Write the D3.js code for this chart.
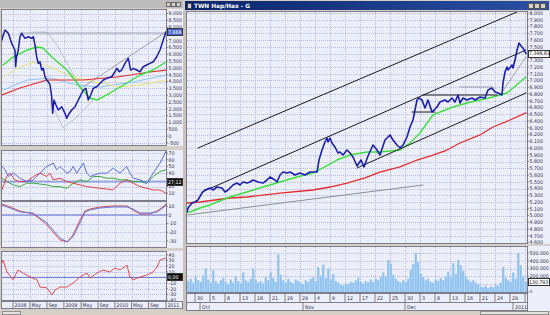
<!DOCTYPE html>
<html>
<head>
<meta charset="utf-8">
<script src="https://cdn.jsdelivr.net/npm/d3@7/dist/d3.min.js"></script>
<style>
  html, body { margin: 0; padding: 0; background: #d4d0c8; overflow: hidden; }
  svg { display: block; font-family: "DejaVu Sans", Verdana, sans-serif; }
  .lbl { font-family: "DejaVu Sans Condensed", "DejaVu Sans", sans-serif; font-size: 5.2px; fill: #2c2c48; }
</style>
</head>
<body>
<svg id="chart" width="550" height="315"></svg>
<script>
// ─── Left window: weekly data (x = weeks since mid-Oct 2007) ─────────────────

const leftClose = [[0,7056],[0.7,7299],[3.1,7791],[6.5,7548],[8.2,7181],[9.9,6813],[11.6,6564],[13.3,6321],[14,5094],[15,5829],
  [16.7,6321],[18.4,7299],[20.2,7548],[23.6,7181],[26.9,7299],[30.4,7181],[32.1,7299],[33.8,6689],[35.5,5829],[37.2,5343],
  [38.9,5461],[40.7,4851],[42.3,4976],[44,4359],[45.8,4116],[47.4,3991],[49.2,3749],[50.9,2889],[51.9,1668],[53.3,2646],
  [55.3,2279],[57.7,1911],[61.2,2154],[64.5,1668],[66.3,1301],[67.9,1544],[71.4,1911],[74.8,2154],[78.2,2646],[79.9,2889],
  [83.3,3381],[86,3506],[88.4,2646],[90.9,3014],[93.5,3506],[97,3624],[100.4,3874],[103.8,4116],[107.3,4241],[112.4,4359],
  [115.8,4726],[117.5,4976],[120.2,4726],[122.6,4851],[126,5343],[129.4,5711],[131.8,4851],[134.5,4976],[138,4851],[141.4,4726],
  [144.7,5094],[148.2,5219],[151.6,5343],[155,5461],[158.5,5829],[161.9,6321],[164.6,6931],[168,7666]];
const leftMaGreen  = [[1,5219],[11.3,5807],[25.6,6321],[35.9,6542],[42,6468],[52.2,5733],[66.6,4851],[79.9,3602],[90.1,2793],
  [97.3,2646],[110.6,3161],[128,3896],[141.4,4484],[154.7,4851],[168,5439]];
const leftMaRed    = [[0,3014],[18.4,3528],[46.1,4116],[83,4116],[117.8,4337],[151.6,4704],[168,4851]];
const leftMaYellow = [[1,4337],[18.4,5072],[31.8,5439],[49.2,5072],[72.7,4337],[100.4,3896],[120.9,3602],[141.4,3749],[168,4116]];
const leftMaCyan   = [[1,3381],[25.6,4116],[49.2,4263],[76.8,3749],[100.4,3602],[134.2,3969],[168,4484]];
const leftBandUp   = [[31.8,7644],[46.1,7644],[56.3,6689],[66.6,5366],[79.9,3602]];
const leftBandDown = [[49.2,2646],[62.5,588],[76.8,1397],[93.2,2646]];
const leftTrend    = [[83,3602],[168,7644]];
const leftResist   = [[18.4,7571],[168,7571]];

const oscBlue  = [[0,50],[3.1,45],[6.5,35],[11.6,40],[18.4,32.5],[25.3,27.5],[32.1,30],[38.9,40],[45.8,50],[52.6,55],[56,45],
  [59.4,50],[66.3,40],[69.7,42.5],[73,50],[76.5,40],[83.3,55],[86.8,40],[90.1,35],[100.4,40],[107.3,40],[114,47.5],[120.9,40],
  [127.7,50],[131.1,40],[134.5,32.5],[141.4,30],[148.2,25],[155,40],[161.9,55],[168,72.5]];
const oscRed   = [[0,15],[4.8,35],[8.2,40],[13.3,30],[18.4,27.5],[25.3,27.5],[32.1,35],[38.9,40],[45.8,35],[49.2,40],[52.6,30],
  [59.4,32.5],[66.3,27.5],[73,25],[79.9,22.5],[86.8,20],[100.4,17.5],[114,15],[120.9,25],[127.7,30],[134.5,25],[141.4,20],
  [155,15],[161.9,15],[168,10]];
const oscGreen = [[0,32.5],[4.8,27.5],[11.6,22.5],[18.4,20],[25.3,25],[32.1,25],[45.8,22.5],[52.6,20],[59.4,20],[66.3,17.5],
  [73,25],[79.9,30],[86.8,27.5],[93.5,35],[100.4,35],[107.3,32.5],[114,32.5],[120.9,30],[127.7,30],[134.5,27.5],[141.4,27.5],
  [148.2,25],[155,35],[161.9,42.5],[168,45]];
const oscLevel = 27;

const macdWeek = [0,8.2,18.4,31.8,38.9,46.1,52.2,59.4,66.6,72.7,79.9,85,90.1,100.4,113.7,128,134.2,141.4,151.6,158.8,164.9,168];
const macdBlue = [11.5,8.1,3.5,2.3,-3.5,-9.2,-17.3,-26.5,-31.1,-25.4,-9.2,3.5,5.8,8.1,9.2,9.2,6.9,2.3,2.3,3.5,8.1,11.5];
const macdRed  = [12.7,9.2,4.6,1.2,-4.6,-11.5,-19.6,-28.8,-31.1,-23.1,-5.8,4.6,6.9,9.2,10.4,10.4,5.8,1.2,1.2,4.6,9.2,12.7];

const momWeek = [0,1,5.1,11.3,16.4,21.5,28.7,35.9,38.9,46.1,51.2,54.3,59.4,66.6,72.7,79.9,87.1,90.1,97.3,103.5,110.6,115.8,
  120.9,128,131.1,134.2,141.4,148.5,154.7,158.8,161.9,168];
const momRed  = [25.5,30.8,9.6,-4.2,13.1,7.8,0.7,-4.2,-17,-18.4,-31.2,-22.3,-17,-17,-10.1,0.7,7.8,-1.1,7.8,13.1,9.6,16.6,
  13.1,21.9,0.7,-4.2,0.7,4.2,9.6,18.4,30.8,34.3];

const leftMonthWeek  = [11.3,28.6,46,63.4,81,98.4,115.6,132.7,150,167.9];
const leftMonthLabel = ['2008','May','Sep','2009','May','Sep','2010','May','Sep','2011'];

// ─── Right window: daily data (x = trading days since 24 Sep 2010) ──────────

const mainClose = [[0,5052],[0.2,5111],[1,5185],[1.6,5200],[2.2,5230],[3,5333],[3.6,5378],[4.6,5407],[5.2,5378],[6,5422],
  [7,5407],[7.6,5348],[8.2,5378],[9.2,5452],[10,5481],[10.6,5452],[11.2,5496],[12,5481],[12.6,5496],[13.2,5526],
  [14.2,5496],[15.2,5481],[16,5526],[16.6,5570],[17.6,5526],[18,5496],[18.6,5600],[19.2,5644],[20,5630],[20.6,5644],
  [21.6,5600],[22.6,5630],[23.6,5600],[24.6,5644],[26,5644],[26.4,5822],[27,5970],[27.6,6089],[28,6148],[28.2,6089],
  [28.6,6148],[29,6074],[29.6,6015],[30.2,5926],[30.6,5941],[31.2,5896],[32,5970],[32.6,5926],[33.2,5867],[34,5733],
  [34.8,5822],[35.4,5719],[36.2,5881],[37.2,6044],[38,5970],[38.6,5896],[39.6,6119],[40.6,6193],[41.2,6119],[42,6044],
  [42.6,6000],[43.2,6044],[44,6163],[44.6,6311],[45.2,6415],[46,6711],[46.4,6741],[47,6711],[47.6,6593],[48.2,6711],
  [49,6533],[50,6607],[50.6,6681],[51.6,6711],[52.2,6681],[53,6741],[53.6,6681],[54.2,6785],[54.6,6667],[55.2,6741],
  [56,6711],[57,6741],[57.6,6711],[58.6,6756],[59.6,6741],[60.2,6859],[61,6889],[61.6,6830],[62.2,6815],[63,6785],
  [63.2,6963],[63.6,7126],[64,7200],[64.2,7156],[65,7230],[65.2,7185],[65.6,7304],[66,7452],[66.4,7556],[66.8,7511],
  [67.2,7481],[67.8,7399]];
const mainMaGreen = [[0,5052],[0.6,5052],[2.6,5111],[4.6,5156],[6,5200],[8.6,5274],[12,5348],[15.2,5422],[18.6,5496],[22,5570],
  [25.2,5630],[27.2,5704],[30,5822],[32.6,5896],[36,5941],[38.6,5941],[42.6,5970],[44.6,6074],[46.6,6222],[48,6370],
  [49.2,6489],[50.6,6533],[53.2,6607],[56,6667],[58.6,6711],[61.2,6756],[62.6,6785],[64,6815],[65.2,6889],[66.6,6978],[67.8,7052]];
const mainMaRed = [[0,5185],[2.6,5200],[8.6,5259],[12,5274],[18.6,5333],[25.2,5378],[28.6,5422],[32,5481],[35.6,5556],[38.6,5644],
  [42.6,5719],[46,5822],[49.2,5896],[52,5970],[54.6,6074],[58.6,6193],[61.2,6311],[64.6,6415],[67.8,6519]];
const mainMaGrey = [[0,5007],[47.2,5452]];
const channelBlack = [
  [[2.2,6000],[66,8015]],
  [[3,5348],[67.8,7452]],
  [[34,5704],[67.8,6815]],
  [[47.2,6785],[62,6785]],
  [[45,6533],[49.6,6533]]
];
const channelGrey = [
  [[54.6,6904],[61,6904]],
  [[62.6,6785],[67.8,7348]]
];
const lastCloseText = '7.398,83';

// volume in thousands, two bars per trading day
const mainVolume = [140,170,120,190,150,130,210,300,160,120,280,140,110,150,180,130,100,160,120,200,
  140,110,250,150,130,170,300,160,120,140,110,190,150,250,180,130,480,220,150,120,
  170,130,110,160,140,120,100,150,130,170,190,140,320,210,350,180,300,160,230,140,
  120,90,80,110,100,130,120,150,180,130,110,140,120,160,130,170,150,190,250,200,
  410,360,220,170,140,120,150,130,170,280,360,500,380,240,190,150,170,130,120,160,
  140,180,150,200,260,190,370,230,410,340,270,200,160,130,150,120,100,70,60,80,
  50,70,60,90,80,120,320,180,150,130,250,170,500,340,200,130];
const lastVolumeText = '130.793';

const dayLabels  = ['30','5','8','13','18','21','26','29','4','9','12','17','22','25','30','3','8','13','16','21','24','29','3'];
const monthDay   = [2.6,23.2,43.6,65.2];
const monthLabel = ['Oct','Nov','Dec','2011'];

// ─── Setup ────────────────────────────────────────────────────────────────────

const svg = d3.select('#chart');
const num = d3.formatLocale({ decimal: ',', thousands: '.', grouping: [3], currency: ['', ''], minus: '-' }).format(',');
const BG = '#eceffa', GRID = '#b3bbe6', FRAME = '#7c7c8c';
const defs = svg.append('defs');

const grad = defs.append('linearGradient').attr('id', 'title');
grad.append('stop').attr('offset', 0).attr('stop-color', '#0a246a');
grad.append('stop').attr('offset', 1).attr('stop-color', '#2c50a4');

function clip(id, x0, x1, y0, y1) {
  defs.append('clipPath').attr('id', id).append('rect')
    .attr('x', x0).attr('y', y0).attr('width', x1 - x0).attr('height', y1 - y0);
}

function box(x0, x1, y0, y1, fill, stroke) {
  svg.append('rect').attr('x', x0).attr('y', y0).attr('width', x1 - x0).attr('height', y1 - y0)
    .attr('fill', fill).attr('stroke', stroke || 'none').attr('stroke-width', 1).attr('shape-rendering', 'crispEdges');
}

function grid(xs, ys, x0, x1, y0, y1) {
  const g = svg.append('g').attr('stroke', GRID).attr('stroke-width', 1)
    .attr('stroke-dasharray', '1,1').attr('shape-rendering', 'crispEdges');
  xs.forEach(x => g.append('line').attr('x1', Math.round(x) + 0.5).attr('x2', Math.round(x) + 0.5).attr('y1', y0).attr('y2', y1));
  ys.forEach(y => g.append('line').attr('y1', Math.round(y) + 0.5).attr('y2', Math.round(y) + 0.5).attr('x1', x0).attr('x2', x1));
}

function yLabels(scale, values, xEdge, fmt) {
  const g = svg.append('g');
  values.forEach(v => {
    const y = scale(v);
    g.append('line').attr('x1', xEdge).attr('x2', xEdge + 2).attr('y1', y).attr('y2', y)
      .attr('stroke', '#555').attr('stroke-width', 0.6);
    g.append('text').attr('class', 'lbl').attr('x', xEdge + 2.5).attr('y', y).attr('dy', '0.35em').text(fmt(v));
  });
}

function valueBox(xEdge, y, w, text, fill, color) {
  box(xEdge + 1, xEdge + 1 + w, y - 3.5, y + 3.5, fill, '#333');
  svg.append('text').attr('class', 'lbl').attr('x', xEdge + 2).attr('y', y).attr('dy', '0.35em')
    .style('fill', color).text(text);
}

function drawLine(data, xs, ys, color, width, clipId) {
  svg.append('path').datum(data).attr('clip-path', `url(#${clipId})`)
    .attr('fill', 'none').attr('stroke', color).attr('stroke-width', width)
    .attr('stroke-linejoin', 'round').attr('stroke-linecap', 'round')
    .attr('d', d3.line().x(d => xs(d[0])).y(d => ys(d[1])));
}

// ─── Window chrome ────────────────────────────────────────────────────────────

box(0, 550, 0, 315, '#d4d0c8');
// left window (inactive title strip)
box(0, 183, 0, 8, '#bcbcbc');
[166, 171, 176].forEach(x => box(x, x + 4, 2, 6, '#d4d0c8', '#6c6c6c'));
// right window title bar
box(185, 549, 1, 10, 'url(#title)');
box(187, 191, 3, 8, '#d4d0c8', '#444');
svg.append('text').attr('x', 194).attr('y', 8).attr('fill', '#fff').attr('font-size', 5.8).attr('font-weight', 'bold')
  .text('TWN Hap/Hax - G');
[528, 534, 540].forEach(x => box(x, x + 5, 3, 8.5, '#d4d0c8', '#555'));
box(183, 186, 10, 312, '#c8c4bc');
box(0, 550, 311, 315, '#d4d0c8');
box(2, 20, 311.5, 314.5, '#e4e2dc', '#909090');
box(480, 548, 311.5, 314.5, '#e4e2dc', '#909090');

// ─── Left window panels ───────────────────────────────────────────────────────

const xL = d3.scaleLinear().domain([0, 168]).range([2, 166]);
const yLPrice = d3.scaleLinear().domain([-662, 9265]).range([145, 10]);
const yLOsc = d3.scaleLinear().domain([0, 73]).range([200, 151]);
const yLMacd = d3.scaleLinear().domain([-37, 15]).range([247, 202]);
const yLMom = d3.scaleLinear().domain([-40, 45]).range([300, 252]);

const monthX = leftMonthWeek.map(xL);
const leftPanels = [
  { id: 'lp', y: yLPrice, ticks: d3.range(-500, 9001, 500) },
  { id: 'lo', y: yLOsc, ticks: d3.range(10, 71, 10) },
  { id: 'lm', y: yLMacd, ticks: [10, 0, -10, -20, -30] },
  { id: 'lr', y: yLMom, ticks: [40, 30, 20, 10, -10, -20, -30, -40] }
];
leftPanels.forEach(p => {
  const [b, t] = p.y.range();
  box(1, 183, t - 1, b + 1, BG);
  grid(monthX.slice(0, -1), p.ticks.map(p.y), 2, 166, t, b);
  clip(p.id, 2, 166, t, b);
});
leftPanels.forEach(p => {
  const [b, t] = p.y.range();
  box(1.5, 166.5, t - 0.5, b + 0.5, 'none', FRAME);
});

// price panel
const leftLast = leftClose[leftClose.length - 1][1];
drawLine(leftBandUp, xL, yLPrice, '#b4b4c0', 0.8, 'lp');
drawLine(leftBandDown, xL, yLPrice, '#b4b4c0', 0.8, 'lp');
drawLine(leftMaCyan, xL, yLPrice, '#8cc4f4', 1, 'lp');
drawLine(leftMaYellow, xL, yLPrice, '#e4e47a', 1, 'lp');
drawLine(leftResist, xL, yLPrice, '#8a8a96', 0.8, 'lp');
drawLine(leftTrend, xL, yLPrice, '#8a8a96', 0.8, 'lp');
drawLine(leftMaRed, xL, yLPrice, '#e22a2a', 1.2, 'lp');
drawLine(leftMaGreen, xL, yLPrice, '#38de38', 1.4, 'lp');
drawLine(leftClose, xL, yLPrice, '#1c1ca4', 1.5, 'lp');
yLabels(yLPrice, d3.range(-500, 9001, 500).filter(v => Math.abs(yLPrice(v) - yLPrice(leftLast)) > 4), 166, num);
valueBox(166, yLPrice(leftLast), 15.5, num(leftLast), '#4866d0', '#fff');

// oscillator panel
drawLine([[0, oscLevel], [168, oscLevel]], xL, yLOsc, '#4050c8', 0.8, 'lo');
drawLine(oscGreen, xL, yLOsc, '#2aa02a', 0.9, 'lo');
drawLine(oscRed, xL, yLOsc, '#e03030', 0.9, 'lo');
drawLine(oscBlue, xL, yLOsc, '#4a5ce0', 0.9, 'lo');
yLabels(yLOsc, [70, 60, 50, 40, 30, 20, 10].filter(v => Math.abs(yLOsc(v) - yLOsc(oscLevel)) > 3.5), 166, d => d);
valueBox(166, yLOsc(oscLevel), 15.5, '27,12', '#101010', '#fff');

// macd panel
drawLine([[0, 0], [168, 0]], xL, yLMacd, '#4050c8', 0.8, 'lm');
drawLine(d3.zip(macdWeek, macdRed), xL, yLMacd, '#e03a3a', 0.9, 'lm');
drawLine(d3.zip(macdWeek, macdBlue), xL, yLMacd, '#5070e0', 0.9, 'lm');
yLabels(yLMacd, [10, 0, -10, -20, -30], 166, d => d);

// momentum panel
drawLine([[0, 0], [168, 0]], xL, yLMom, '#4050c8', 0.8, 'lr');
drawLine(d3.zip(momWeek, momRed), xL, yLMom, '#e03a3a', 0.9, 'lr');
yLabels(yLMom, [40, 30, 20, 10, -10, -20, -30, -40], 166, d => d);
valueBox(166, yLMom(0), 15.5, '0,00', '#101010', '#fff');

// time axis
box(1, 183, 301, 309, BG);
box(1.5, 182.5, 301.5, 308.5, 'none', FRAME);
monthX.forEach((x, i) => {
  svg.append('line').attr('x1', x).attr('x2', x).attr('y1', 301.5).attr('y2', 308.5)
    .attr('stroke', '#666').attr('stroke-width', 0.8);
  svg.append('text').attr('class', 'lbl').attr('x', x + 1.5).attr('y', 307).text(leftMonthLabel[i]);
});

// ─── Right window panels ──────────────────────────────────────────────────────

const xR = d3.scaleLinear().domain([0, 68]).range([187, 527]);
const yRPrice = d3.scaleLinear().domain([4600, 8000]).range([242.5, 13]);
const yRVol = d3.scaleLinear().domain([0, 500]).range([292, 253]);

const dayX = dayLabels.map((d, i) => xR(1.6 + 3 * i));
const priceTicks = d3.range(4600, 8001, 100);

box(186, 550, 11, 243.5, BG);
box(186, 550, 246, 292.5, BG);
grid(dayX, priceTicks.map(yRPrice), 187, 527, 12, 243);
grid(dayX, [100, 200, 300, 400, 500].map(yRVol), 187, 527, 247, 292);
clip('rp', 187, 527, 12, 243);
clip('rv', 187, 527, 247, 292);
box(186.5, 527.5, 11.5, 243.5, 'none', FRAME);
box(186.5, 527.5, 246.5, 292.5, 'none', FRAME);

// price panel
drawLine(mainMaGrey, xR, yRPrice, '#8c8c94', 1, 'rp');
drawLine(mainMaRed, xR, yRPrice, '#e42c2c', 1.3, 'rp');
drawLine(mainMaGreen, xR, yRPrice, '#3ce03c', 1.4, 'rp');
channelGrey.forEach(seg => drawLine(seg, xR, yRPrice, '#8c8c94', 0.8, 'rp'));
channelBlack.forEach(seg => drawLine(seg, xR, yRPrice, '#1a1a1a', 1, 'rp'));
drawLine(mainClose, xR, yRPrice, '#1e1eac', 1.6, 'rp');
const lastClose = mainClose[mainClose.length - 1][1];
yLabels(yRPrice, priceTicks.filter(v => Math.abs(yRPrice(v) - yRPrice(lastClose)) > 4), 527, num);
valueBox(527, yRPrice(lastClose), 21, lastCloseText, '#ffffff', '#111');

// volume panel
const barW = xR(0.5) - xR(0);
svg.append('g').attr('clip-path', 'url(#rv)')
  .selectAll('rect').data(mainVolume).join('rect')
  .attr('x', (d, i) => xR(i * 0.5))
  .attr('width', barW)
  .attr('y', d => yRVol(d))
  .attr('height', d => yRVol(0) - yRVol(d))
  .attr('fill', '#a4cff4');
svg.append('g').attr('clip-path', 'url(#rv)')
  .selectAll('line').data(mainVolume).join('line')
  .attr('x1', (d, i) => xR(i * 0.5) + barW / 2).attr('x2', (d, i) => xR(i * 0.5) + barW / 2)
  .attr('y1', d => yRVol(d)).attr('y2', yRVol(0))
  .attr('stroke', '#7ab2ea').attr('stroke-width', 0.6);
const lastVol = mainVolume[mainVolume.length - 1];
yLabels(yRVol, [500, 400, 300, 200, 0], 527, v => num(v * 1000));
valueBox(527, yRVol(lastVol), 21, lastVolumeText, '#ffffff', '#111');

// time axis: day row and month row
box(186, 550, 293, 311, BG);
box(186.5, 527.5, 293.5, 302, 'none', FRAME);
box(186.5, 527.5, 302, 310.5, 'none', FRAME);
clip('rt', 187, 527, 293, 311);
const tAxis = svg.append('g').attr('clip-path', 'url(#rt)');
dayX.forEach((x, i) => {
  tAxis.append('line').attr('x1', x).attr('x2', x).attr('y1', 293.5).attr('y2', 302)
    .attr('stroke', '#666').attr('stroke-width', 0.8);
  tAxis.append('text').attr('class', 'lbl').attr('x', x + 2).attr('y', 300).text(dayLabels[i]);
});
monthDay.forEach((d, i) => {
  const x = xR(d);
  tAxis.append('line').attr('x1', x).attr('x2', x).attr('y1', 302).attr('y2', 310.5)
    .attr('stroke', '#666').attr('stroke-width', 0.8);
  tAxis.append('text').attr('class', 'lbl').attr('x', x + 2).attr('y', 308.5).text(monthLabel[i]);
});
</script>
</body>
</html>
